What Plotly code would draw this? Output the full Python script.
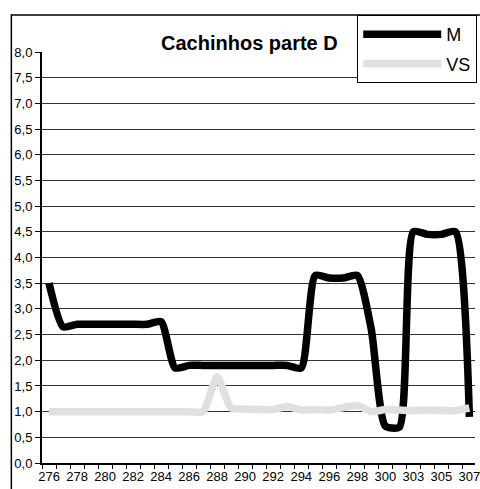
import plotly.graph_objects as go

# Sample positions along the x axis (one category per reading)
categories = ["276", "277", "278", "279", "280", "281", "282", "283", "284", "285",
              "286", "287", "288", "289", "290", "291", "292", "293", "294", "295",
              "296", "297", "298", "299", "300", "301", "303", "304", "305", "306", "307"]

# Series values
m_values = [3.5, 2.65, 2.7, 2.7, 2.7, 2.7, 2.7, 2.7, 2.75, 1.85,
            1.9, 1.9, 1.9, 1.9, 1.9, 1.9, 1.9, 1.9, 1.85, 3.65,
            3.6, 3.6, 3.65, 2.6, 0.72, 0.7, 4.5, 4.45, 4.45, 4.5, 0.9]
vs_values = [1.0, 1.0, 1.0, 1.0, 1.0, 1.0, 1.0, 1.0, 1.0, 1.0,
             1.0, 1.0, 1.68, 1.07, 1.05, 1.04, 1.04, 1.1, 1.03, 1.04,
             1.03, 1.08, 1.12, 1.0, 1.04, 1.03, 1.02, 1.03, 1.02, 1.02, 1.07]

# Label every second category on the axis
tick_text = [c if i % 2 == 0 else "" for i, c in enumerate(categories)]

FONT = "Arial, 'Liberation Sans', sans-serif"

fig = go.Figure()
fig.add_trace(go.Scatter(
    x=categories, y=m_values, name="M", mode="lines",
    line=dict(color="#000000", width=7.5, shape="spline", smoothing=0.6),
    legendgroup="m",
))
fig.add_trace(go.Scatter(
    x=categories, y=vs_values, name="VS", mode="lines",
    line=dict(color="#e0e0e0", width=7.5, shape="spline", smoothing=0.6),
    legendgroup="vs",
))

fig.update_layout(
    width=480, height=489,
    margin=dict(l=42, r=0, t=52, b=26),
    paper_bgcolor="white", plot_bgcolor="white",
    separators=",.",
    font=dict(family=FONT, color="#000000", size=13),
    title=dict(
        text="<b>Cachinhos parte D</b>",
        font=dict(family=FONT, size=20, color="#000000"),
        xref="paper", x=0.479, xanchor="center",
        yref="container", y=1 - 43 / 489, yanchor="middle",
    ),
    showlegend=True,
    legend=dict(
        x=0.728, y=1.09, xanchor="left", yanchor="top",
        bgcolor="white", bordercolor="#000000", borderwidth=1,
        font=dict(family=FONT, size=18, color="#000000"),
        itemwidth=78, traceorder="grouped", tracegroupgap=3,
        entrywidth=160,
    ),
    xaxis=dict(
        type="category",
        categoryorder="array", categoryarray=categories,
        range=[-0.5, 30.4],
        tickmode="array", tickvals=categories, ticktext=tick_text,
        tickson="boundaries",
        ticks="outside", ticklen=4, tickwidth=1, tickcolor="#000000",
        showline=True, linecolor="#000000", linewidth=2,
        showgrid=False, zeroline=False,
        tickfont=dict(family=FONT, size=13, color="#000000"),
        tickangle=0,
    ),
    yaxis=dict(
        range=[0, 8], dtick=0.5, tick0=0, tickformat=".1f",
        ticks="outside", ticklen=5, tickwidth=1, tickcolor="#000000",
        showline=True, linecolor="#000000", linewidth=2,
        showgrid=True, gridcolor="#333333", gridwidth=1,
        zeroline=False,
        tickfont=dict(family=FONT, size=13, color="#000000"),
    ),
    shapes=[
        # chart-area frame
        dict(type="rect", xref="paper", yref="paper",
             x0=(11 - 42) / 438, x1=1.2, y0=-0.2, y1=(463 - 15) / 411,
             line=dict(color="#000000", width=1.5), fillcolor="rgba(0,0,0,0)",
             layer="below"),
    ],
)

fig.write_html("out.html")
